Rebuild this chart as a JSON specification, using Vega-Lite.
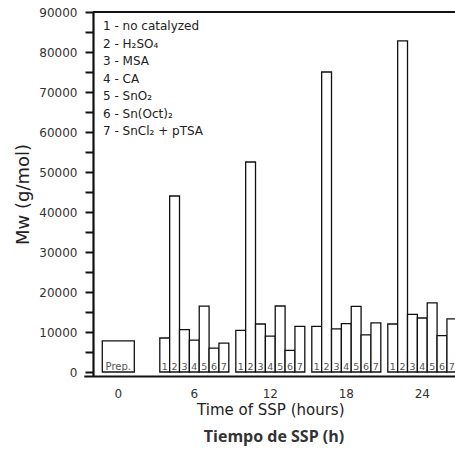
{
  "$schema": "https://vega.github.io/schema/vega-lite/v6.json",
  "width": 362,
  "height": 364,
  "autosize": {"type": "none"},
  "padding": {"left": 93, "top": 12, "right": 0, "bottom": 86},
  "background": "white",
  "config": {
    "view": {"stroke": null},
    "font": "DejaVu Sans",
    "axis": {"grid": false, "domain": true, "domainColor": "#111", "domainWidth": 2, "labelFont": "DejaVu Sans", "labelFontSize": 12, "labelColor": "#333", "titleFont": "DejaVu Sans", "titleFontWeight": "normal", "titleColor": "#222"},
    "axisX": {"ticks": false, "labelAngle": 0, "labelPadding": 12, "titleFontSize": 15, "titlePadding": 3},
    "axisY": {"domain": true, "domainColor": "#111", "domainWidth": 2.2, "ticks": true, "tickSize": 8, "tickWidth": 2, "tickColor": "#111", "labelPadding": 8, "titleFontSize": 18, "titlePadding": 6}
  },
  "title": {"text": "Tiempo de SSP (h)", "orient": "bottom", "font": "Open Sans", "fontWeight": "bold", "fontSize": 16, "color": "#333", "offset": 12, "anchor": "middle"},
  "data": {"values": [
    {"time": "0", "n": "Prep.", "catalyst": "Prep.", "mw": 7800},
    {"time": "6", "n": "1", "catalyst": "1 - no catalyzed", "mw": 8500},
    {"time": "6", "n": "2", "catalyst": "2 - H₂SO₄", "mw": 44000},
    {"time": "6", "n": "3", "catalyst": "3 - MSA", "mw": 10600},
    {"time": "6", "n": "4", "catalyst": "4 - CA", "mw": 7950},
    {"time": "6", "n": "5", "catalyst": "5 - SnO₂", "mw": 16450},
    {"time": "6", "n": "6", "catalyst": "6 - Sn(Oct)₂", "mw": 5950},
    {"time": "6", "n": "7", "catalyst": "7 - SnCl₂ + pTSA", "mw": 7200},
    {"time": "12", "n": "1", "catalyst": "1 - no catalyzed", "mw": 10400},
    {"time": "12", "n": "2", "catalyst": "2 - H₂SO₄", "mw": 52500},
    {"time": "12", "n": "3", "catalyst": "3 - MSA", "mw": 12000},
    {"time": "12", "n": "4", "catalyst": "4 - CA", "mw": 8950},
    {"time": "12", "n": "5", "catalyst": "5 - SnO₂", "mw": 16500},
    {"time": "12", "n": "6", "catalyst": "6 - Sn(Oct)₂", "mw": 5400},
    {"time": "12", "n": "7", "catalyst": "7 - SnCl₂ + pTSA", "mw": 11400},
    {"time": "18", "n": "1", "catalyst": "1 - no catalyzed", "mw": 11400},
    {"time": "18", "n": "2", "catalyst": "2 - H₂SO₄", "mw": 75000},
    {"time": "18", "n": "3", "catalyst": "3 - MSA", "mw": 10800},
    {"time": "18", "n": "4", "catalyst": "4 - CA", "mw": 12100},
    {"time": "18", "n": "5", "catalyst": "5 - SnO₂", "mw": 16400},
    {"time": "18", "n": "6", "catalyst": "6 - Sn(Oct)₂", "mw": 9300},
    {"time": "18", "n": "7", "catalyst": "7 - SnCl₂ + pTSA", "mw": 12300},
    {"time": "24", "n": "1", "catalyst": "1 - no catalyzed", "mw": 12000},
    {"time": "24", "n": "2", "catalyst": "2 - H₂SO₄", "mw": 82800},
    {"time": "24", "n": "3", "catalyst": "3 - MSA", "mw": 14400},
    {"time": "24", "n": "4", "catalyst": "4 - CA", "mw": 13500},
    {"time": "24", "n": "5", "catalyst": "5 - SnO₂", "mw": 17300},
    {"time": "24", "n": "6", "catalyst": "6 - Sn(Oct)₂", "mw": 9100},
    {"time": "24", "n": "7", "catalyst": "7 - SnCl₂ + pTSA", "mw": 13300}
  ]},
  "layer": [
    {
      "data": {"values": [{"v": 90000}]},
      "mark": {"type": "rule", "color": "#111", "strokeWidth": 2},
      "encoding": {
        "y": {"field": "v", "type": "quantitative", "title": "Mᴡ (g/mol)",
              "scale": {"domain": [-1000, 90000], "nice": false},
              "axis": {"domain": true, "ticks": true, "values": [0,5000,10000,15000,20000,25000,30000,35000,40000,45000,50000,55000,60000,65000,70000,75000,80000,85000,90000], "labelExpr": "datum.value % 10000 === 0 ? datum.value : ''"}}
      }
    },
    {
      "transform": [{"filter": "datum.n !== 'Prep.'"}],
      "mark": {"type": "bar", "stroke": "#111", "strokeWidth": 1.3},
      "encoding": {
        "x": {"field": "time", "type": "ordinal", "title": "Time of SSP (hours)",
              "scale": {"domain": ["0","6","12","18","24"], "range": [-9.2, 363.8], "paddingInner": 0.092, "paddingOuter": 0}},
        "xOffset": {"field": "n", "type": "nominal", "scale": {"domain": ["1","2","3","4","5","6","7"], "paddingInner": 0, "paddingOuter": 0}},
        "y": {"field": "mw", "type": "quantitative", "title": "Mᴡ (g/mol)",
              "scale": {"domain": [-1000, 90000], "nice": false},
              "axis": {"domain": true, "ticks": true, "values": [0,5000,10000,15000,20000,25000,30000,35000,40000,45000,50000,55000,60000,65000,70000,75000,80000,85000,90000], "labelExpr": "datum.value % 10000 === 0 ? datum.value : ''"}},
        "y2": {"datum": 0},
        "fill": {"field": "catalyst", "type": "nominal", "scale": {"range": ["white"]},
                 "legend": {"orient": "top-left", "offset": 8, "title": null, "symbolSize": 0, "symbolStrokeWidth": 0, "symbolOpacity": 0, "labelOffset": -10, "labelFont": "DejaVu Sans", "labelFontSize": 12, "labelColor": "#222", "rowPadding": 5.5, "padding": 0}}
      }
    },
    {
      "transform": [{"filter": "datum.n === 'Prep.'"}],
      "mark": {"type": "bar", "stroke": "#111", "strokeWidth": 1.3, "fill": "white", "width": {"band": 0.464}},
      "encoding": {
        "x": {"field": "time", "type": "ordinal", "title": "Time of SSP (hours)",
              "scale": {"domain": ["0","6","12","18","24"], "range": [-9.2, 363.8], "paddingInner": 0.092, "paddingOuter": 0}},
        "y": {"field": "mw", "type": "quantitative", "title": "Mᴡ (g/mol)",
              "scale": {"domain": [-1000, 90000], "nice": false},
              "axis": {"domain": true, "ticks": true, "values": [0,5000,10000,15000,20000,25000,30000,35000,40000,45000,50000,55000,60000,65000,70000,75000,80000,85000,90000], "labelExpr": "datum.value % 10000 === 0 ? datum.value : ''"}},
        "y2": {"datum": 0}
      }
    },
    {
      "transform": [{"filter": "datum.n !== 'Prep.'"}],
      "mark": {"type": "text", "fontSize": 9.5, "color": "#555", "baseline": "alphabetic", "dy": -2.5, "font": "DejaVu Sans"},
      "encoding": {
        "x": {"field": "time", "type": "ordinal", "title": "Time of SSP (hours)",
              "scale": {"domain": ["0","6","12","18","24"], "range": [-9.2, 363.8], "paddingInner": 0.092, "paddingOuter": 0}},
        "xOffset": {"field": "n", "type": "nominal", "scale": {"domain": ["1","2","3","4","5","6","7"], "paddingInner": 0, "paddingOuter": 0}},
        "y": {"datum": 0, "type": "quantitative", "title": "Mᴡ (g/mol)",
              "axis": {"domain": true, "ticks": true, "values": [0,5000,10000,15000,20000,25000,30000,35000,40000,45000,50000,55000,60000,65000,70000,75000,80000,85000,90000], "labelExpr": "datum.value % 10000 === 0 ? datum.value : ''"}},
        "text": {"field": "n"}
      }
    },
    {
      "transform": [{"filter": "datum.n === 'Prep.'"}],
      "mark": {"type": "text", "fontSize": 10, "color": "#555", "baseline": "alphabetic", "dy": -2.5, "font": "DejaVu Sans"},
      "encoding": {
        "x": {"field": "time", "type": "ordinal", "title": "Time of SSP (hours)",
              "scale": {"domain": ["0","6","12","18","24"], "range": [-9.2, 363.8], "paddingInner": 0.092, "paddingOuter": 0}},
        "y": {"datum": 0, "type": "quantitative", "title": "Mᴡ (g/mol)",
              "axis": {"domain": true, "ticks": true, "values": [0,5000,10000,15000,20000,25000,30000,35000,40000,45000,50000,55000,60000,65000,70000,75000,80000,85000,90000], "labelExpr": "datum.value % 10000 === 0 ? datum.value : ''"}},
        "text": {"field": "n"}
      }
    }
  ]
}
